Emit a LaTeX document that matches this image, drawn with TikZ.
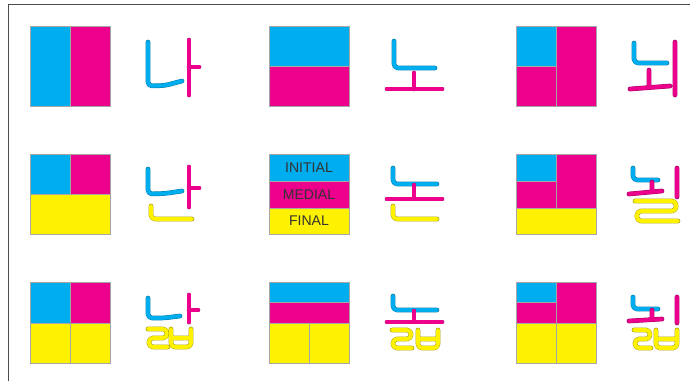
\documentclass[tikz,border=0pt]{standalone}
\usepackage{fontspec}
\setsansfont{Liberation Sans}
\usepackage{xcolor}
\usepackage{tikz}
\usetikzlibrary{positioning}
\definecolor{hcyan}{RGB}{0,174,239}
\definecolor{hmag}{RGB}{236,0,140}
\definecolor{hyel}{RGB}{255,242,0}

\begin{document}
\begin{tikzpicture}[x=0.03cm, y=-0.03cm,
    frame/.style={draw=black!70, line width=0.8pt},
    cell/.style={draw=gray!70, line width=0.4pt},
    jamo/.style={line width=0.4pt, double distance=3.2pt, line cap=round, line join=round, rounded corners=3.5pt},
    cho/.style={jamo, draw=hcyan!70!black, double=hcyan},
    jung/.style={jamo, draw=hmag!70!black, double=hmag},
    jong/.style={jamo, draw=hyel!65!black, double=hyel},
    band/.style={font=\sffamily\fontsize{12}{12}\selectfont, text=black!80}]
    \useasboundingbox (0,0) rectangle (690,381);
    \draw[frame] (8,381) -- (8,4) -- (690,4);

    % Row 1
    \filldraw[cell, fill=hcyan] (30,26) rectangle (70,106);
    \filldraw[cell, fill=hmag] (70,26) rectangle (110,106);
    \draw[cho] (148,42) -- (148,86) -- (165,85.5) -- (182,81);
    \draw[jung] (189,40) -- (189,95) (189,67) -- (199,67);

    \filldraw[cell, fill=hcyan] (269,26) rectangle (349,66);
    \filldraw[cell, fill=hmag] (269,66) rectangle (349,106);
    \draw[cho] (394,41) -- (394,68) -- (435,68);
    \draw[jung] (414,73) -- (414,89) (387,89) -- (442,89);

    \filldraw[cell, fill=hmag] (516,26) rectangle (596,106);
    \filldraw[cell, fill=hcyan] (516,26) rectangle (556,66);
    \draw[cell] (556,66) -- (556,106);
    \draw[cho] (634,43) -- (634,63) -- (667,63);
    \draw[jung] (649,70) -- (649,87) (630,89) -- (670,86) (675,42) -- (675,95);

    % Row 2
    \filldraw[cell, fill=hcyan] (30,154) rectangle (70,194);
    \filldraw[cell, fill=hmag] (70,154) rectangle (110,194);
    \filldraw[cell, fill=hyel] (30,194) rectangle (110,234);
    \draw[cho] (148,169) -- (148,194) -- (165,193.5) -- (182,191);
    \draw[jung] (189,167) -- (189,207) (189,188) -- (199,188);
    \draw[jong] (151,206) -- (151,219) -- (192,219);

    \filldraw[cell, fill=hcyan] (269,154) rectangle (349,181);
    \filldraw[cell, fill=hmag] (269,181) rectangle (349,208);
    \filldraw[cell, fill=hyel] (269,208) rectangle (349,234);
    \node[band] (initial) at (309,167.5) {INITIAL};
    \node[band] (medial) at (309,194.5) {MEDIAL};
    \node[band] (final) at (309,221) {FINAL};
    \draw[cho] (393,168) -- (393,184) -- (437,184);
    \draw[jung] (414,185) -- (414,198) (387,199) -- (442,199);
    \draw[jong] (393,206) -- (393,219) -- (437,219);

    \filldraw[cell, fill=hmag] (516,154) rectangle (596,208);
    \filldraw[cell, fill=hcyan] (516,154) rectangle (556,181);
    \draw[cell] (516,181) -- (556,181) -- (556,208);
    \filldraw[cell, fill=hyel] (516,208) rectangle (596,234);
    \draw[cho] (633,168) -- (633,180) -- (658,180);
    \draw[jung] (652,182) -- (652,191) (629,194) -- (662,191) (677,168) -- (677,197);
    \draw[jong] (635,201) -- (676,201) -- (676,211) -- (637,211) -- (637,221) -- (678,221);

    % Row 3
    \filldraw[cell, fill=hcyan] (30,282) rectangle (70,323);
    \filldraw[cell, fill=hmag] (70,282) rectangle (110,323);
    \filldraw[cell, fill=hyel] (30,323) rectangle (70,363);
    \filldraw[cell, fill=hyel] (70,323) rectangle (110,363);
    \draw[cho] (148,298) -- (148,318) -- (164,318) -- (180,316);
    \draw[jung] (189,295) -- (189,322) (189,310) -- (198,310);
    \draw[jong] (148,329) -- (167,329) -- (167,338) -- (149,338) -- (149,347) -- (168,347);
    \draw[jong] (171,329) -- (171,347) -- (191,347) -- (191,329) (171,338) -- (191,338);

    \filldraw[cell, fill=hcyan] (269,282) rectangle (349,302);
    \filldraw[cell, fill=hmag] (269,302) rectangle (349,323);
    \filldraw[cell, fill=hyel] (269,323) rectangle (309,363);
    \filldraw[cell, fill=hyel] (309,323) rectangle (349,363);
    \draw[cho] (393,296) -- (393,310) -- (437,310);
    \draw[jung] (414,311) -- (414,321) (387,322) -- (442,322);
    \draw[jong] (392,330) -- (411,330) -- (411,339) -- (393,339) -- (393,348) -- (412,348);
    \draw[jong] (418,330) -- (418,348) -- (438,348) -- (438,330) (418,339) -- (438,339);

    \filldraw[cell, fill=hmag] (516,282) rectangle (596,323);
    \filldraw[cell, fill=hcyan] (516,282) rectangle (556,302);
    \draw[cell] (516,302) -- (556,302) -- (556,323);
    \filldraw[cell, fill=hyel] (516,323) rectangle (556,363);
    \filldraw[cell, fill=hyel] (556,323) rectangle (596,363);
    \draw[cho] (633,297) -- (633,309) -- (658,309);
    \draw[jung] (652,310) -- (652,318) (629,321) -- (662,319) (677,297) -- (677,323);
    \draw[jong] (634,330) -- (650,330) -- (650,339) -- (635,339) -- (635,348) -- (651,348);
    \draw[jong] (656,330) -- (656,348) -- (677,348) -- (677,330) (656,339) -- (677,339);
\end{tikzpicture}
\end{document}
